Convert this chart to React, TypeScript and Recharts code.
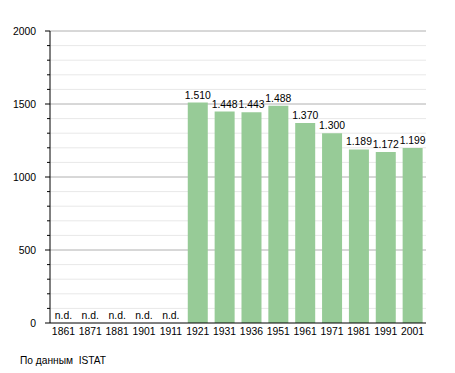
import { Bar, BarChart, CartesianGrid, LabelList, ReferenceDot, XAxis, YAxis } from "recharts";

const years = ["1861", "1871", "1881", "1901", "1911", "1921", "1931", "1936", "1951", "1961", "1971", "1981", "1991", "2001"];
const population: (number | null)[] = [null, null, null, null, null, 1510, 1448, 1443, 1488, 1370, 1300, 1189, 1172, 1199];
const majorTicks = [0, 500, 1000, 1500, 2000];
const minorTicks = [100, 200, 300, 400, 600, 700, 800, 900, 1100, 1200, 1300, 1400, 1600, 1700, 1800, 1900];

const FONT = "'Liberation Sans', Arial, sans-serif";
const FS = 10.4;

const fmt = (v: number) => v.toLocaleString("it-IT");

const data = years.map((y, i) => ({
  year: y,
  value: population[i],
  label: population[i] == null ? "" : fmt(population[i] as number),
}));

function YTick(props: any) {
  const { x, y, payload } = props;
  const major = payload.value % 500 === 0;
  return (
    <g>
      <line x1={x - (major ? 5 : 3)} x2={x} y1={y} y2={y} stroke="#000" />
      {major && (
        <text x={x - 14} y={y} dy="0.35em" textAnchor="end" fontSize={FS} fill="#000" fontFamily={FONT}>
          {payload.value}
        </text>
      )}
    </g>
  );
}

export default function App() {
  return (
    <div style={{ position: "absolute", left: 0, top: 0, width: 455, height: 373, background: "#fff" }}>
      <BarChart
        width={455}
        height={373}
        data={data}
        margin={{ top: 31, right: 29, bottom: 20, left: 0 }}
        barCategoryGap="13%"
      >
        <CartesianGrid vertical={false} horizontalValues={minorTicks} stroke="#e8e8e8" />
        <CartesianGrid vertical={false} horizontalValues={majorTicks.filter((v) => v > 0)} stroke="#b0b0b0" />
        <XAxis
          dataKey="year"
          height={30}
          tickLine={false}
          tickSize={0}
          tickMargin={5}
          axisLine={{ stroke: "#000" }}
          tick={{ fontSize: FS, fill: "#000", fontFamily: FONT }}
          interval={0}
        />
        <YAxis
          width={50}
          domain={[0, 2000]}
          ticks={[...majorTicks, ...minorTicks].sort((a, b) => a - b)}
          tickLine={false}
          tickSize={0}
          tickMargin={0}
          axisLine={{ stroke: "#000" }}
          tick={<YTick />}
          interval={0}
        />
        <Bar dataKey="value" fill="#97cb97" isAnimationActive={false}>
          <LabelList dataKey="label" position="top" offset={4} fontSize={FS} fill="#000" fontFamily={FONT} />
        </Bar>
        {years.filter((_, i) => population[i] == null).map((y) => (
          <ReferenceDot
            key={y}
            x={y}
            y={0}
            r={1}
            fill="none"
            stroke="none"
            label={{ value: "n.d.", position: "top", offset: 3, fontSize: FS, fill: "#000", fontFamily: FONT }}
          />
        ))}
      </BarChart>
      <div style={{ position: "absolute", left: 20, top: 355, fontSize: 10.2, fontFamily: FONT, whiteSpace: "pre" }}>
        {"По данным  ISTAT"}
      </div>
    </div>
  );
}
